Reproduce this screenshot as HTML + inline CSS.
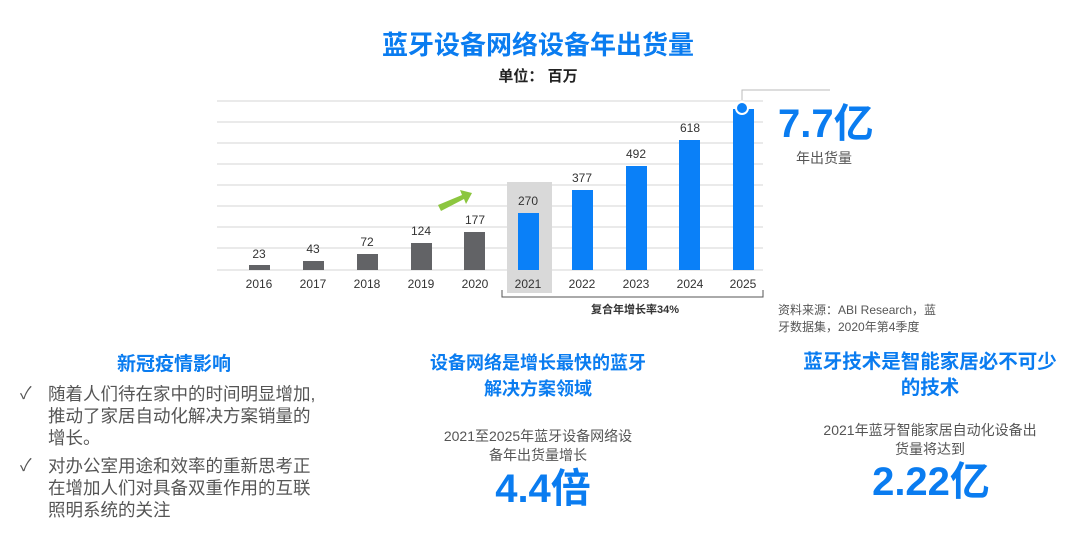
<!DOCTYPE html>
<html><head><meta charset="utf-8"><style>
body{margin:0;width:1072px;height:539px;background:#fff;overflow:hidden;font-family:"Liberation Sans","Noto Sans CJK SC",sans-serif}
.t{position:absolute;white-space:nowrap}
.c{transform:translateX(-50%);text-align:center}
.b{color:#0a7cf0;font-weight:bold}
.g{color:#555}
</style></head><body>
<svg width="1072" height="539" style="position:absolute;left:0;top:0" font-family="Liberation Sans, Noto Sans CJK SC, sans-serif">
<g stroke="#e3e3e3" stroke-width="1.5">
<line x1="217" x2="763" y1="101" y2="101"/><line x1="217" x2="763" y1="122" y2="122"/><line x1="217" x2="763" y1="143" y2="143"/><line x1="217" x2="763" y1="164" y2="164"/><line x1="217" x2="763" y1="185" y2="185"/><line x1="217" x2="763" y1="206" y2="206"/><line x1="217" x2="763" y1="227" y2="227"/><line x1="217" x2="763" y1="248" y2="248"/><line x1="217" x2="763" y1="270" y2="270"/>
</g>
<rect x="507" y="182" width="45" height="111" fill="#d9d9d9"/>
<g fill="#626366">
<rect x="249" y="265" width="21" height="5"/><rect x="303" y="261" width="21" height="9"/><rect x="357" y="254" width="21" height="16"/><rect x="411" y="243" width="21" height="27"/><rect x="464" y="232" width="21" height="38"/>
</g>
<g fill="#0a80f8">
<rect x="518" y="213" width="21" height="57"/><rect x="572" y="190" width="21" height="80"/><rect x="626" y="166" width="21" height="104"/><rect x="679" y="140" width="21" height="130"/><rect x="733" y="109" width="21" height="161"/>
</g>
<circle cx="742" cy="108" r="6" fill="#0a80f8" stroke="#fff" stroke-width="2"/>
<polyline points="742,100 742,90 830,90" fill="none" stroke="#bbb" stroke-width="1"/>
<polyline points="502,290 502,297 763,297 763,290" fill="none" stroke="#555" stroke-width="1"/>
<polygon points="438,205 462,195 460,190 472,193 466,204 464,199 441,211" fill="#8cc63f"/>
<g font-size="12" fill="#333" text-anchor="middle">
<text x="259" y="258">23</text><text x="313" y="253">43</text><text x="367" y="246">72</text><text x="421" y="235">124</text><text x="475" y="224">177</text><text x="528" y="205">270</text><text x="582" y="182">377</text><text x="636" y="158">492</text><text x="690" y="132">618</text>
<text x="259" y="288">2016</text><text x="313" y="288">2017</text><text x="367" y="288">2018</text><text x="421" y="288">2019</text><text x="475" y="288">2020</text><text x="528" y="288">2021</text><text x="582" y="288">2022</text><text x="636" y="288">2023</text><text x="690" y="288">2024</text><text x="743" y="288">2025</text>
<text x="635" y="313" font-weight="bold" font-size="11">复合年增长率34%</text>
</g>
</svg>
<div class="t c b" style="left:538px;top:25px;font-size:26px">蓝牙设备网络设备年出货量</div>
<div class="t c" style="left:538px;top:65px;font-size:15px;font-weight:bold;color:#222">单位： 百万</div>
<div class="t b" style="left:778px;top:100px;font-size:40px;line-height:48px">7.7亿</div>
<div class="t g" style="left:796px;top:148px;font-size:14px">年出货量</div>
<div class="t g" style="left:778px;top:302px;font-size:12px;line-height:17px">资料来源：ABI Research，蓝<br>牙数据集，2020年第4季度</div>
<div class="t c b" style="left:174px;top:349px;font-size:19px">新冠疫情影响</div>
<div class="t g" style="left:20px;top:383px;font-size:17px;line-height:22px">✓</div>
<div class="t g" style="left:48px;top:383px;font-size:17.5px;line-height:22px">随着人们待在家中的时间明显增加,<br>推动了家居自动化解决方案销量的<br>增长。</div>
<div class="t g" style="left:20px;top:455px;font-size:17px;line-height:22px">✓</div>
<div class="t g" style="left:48px;top:455px;font-size:17.5px;line-height:22px">对办公室用途和效率的重新思考正<br>在增加人们对具备双重作用的互联<br>照明系统的关注</div>
<div class="t c b" style="left:538px;top:350px;font-size:18px;line-height:26px">设备网络是增长最快的蓝牙<br>解决方案领域</div>
<div class="t c g" style="left:538px;top:427px;font-size:14px;line-height:19px">2021至2025年蓝牙设备网络设<br>备年出货量增长</div>
<div class="t c b" style="left:543px;top:465px;font-size:40px;line-height:48px">4.4倍</div>
<div class="t c b" style="left:930px;top:349px;font-size:19.5px;line-height:26px">蓝牙技术是智能家居必不可少<br>的技术</div>
<div class="t c g" style="left:930px;top:421px;font-size:14px;line-height:19px">2021年蓝牙智能家居自动化设备出<br>货量将达到</div>
<div class="t c b" style="left:931px;top:458px;font-size:40px;line-height:48px">2.22亿</div>
</body></html>
